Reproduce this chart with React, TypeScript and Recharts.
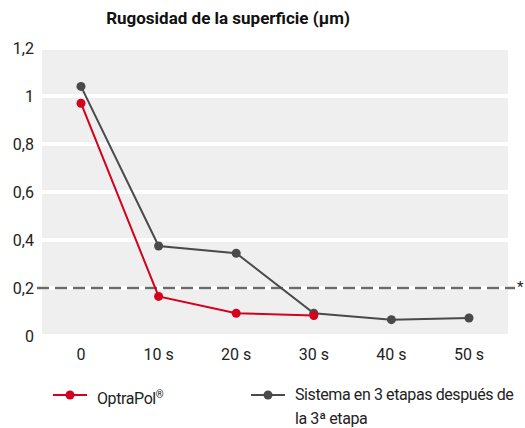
import { LineChart, Line, XAxis, YAxis, CartesianGrid, ReferenceLine } from "recharts";

const categories = ["0", "10 s", "20 s", "30 s", "40 s", "50 s"];
const optraPol = [0.97, 0.165, 0.095, 0.085, null, null];
const sistema3 = [1.04, 0.375, 0.345, 0.095, 0.068, 0.075];
const yTicks = [0, 0.2, 0.4, 0.6, 0.8, 1, 1.2];
const threshold = 0.2;

const data = categories.map((c, i) => ({ t: c, optra: optraPol[i], sistema: sistema3[i] }));

const style = {
  font: "Roboto, 'Liberation Sans', sans-serif",
  tick: { fontSize: 16, fill: "#222" },
  bg: "#efefef",
  red: "#d4001e",
  grey: "#4a4a4a",
  dash: "#6b6b6b",
};

const DashedRef = (props: any) => {
  const { x1, x2, y1 } = props;
  return (
    <g>
      <line x1={x1 - 5} x2={x2 + 7} y1={y1} y2={y1} stroke={style.dash} strokeWidth={2.5} strokeDasharray="12 6" />
      <text x={x2 + 9} y={y1 + 4} fontSize={15} fill="#222">*</text>
    </g>
  );
};

const LegendItem = ({ color, children, left }: { color: string; children: any; left: number }) => (
  <div style={{ position: "absolute", left, top: 384, display: "flex", alignItems: "flex-start" }}>
    <svg width={36} height={22}>
      <line x1={1} x2={35} y1={11} y2={11} stroke={color} strokeWidth={2} />
      <circle cx={18} cy={11} r={4.5} fill={color} />
    </svg>
    <div style={{ marginLeft: 9, fontSize: 16, lineHeight: "24px", color: "#222", marginTop: -1, whiteSpace: "nowrap", letterSpacing: -0.4 }}>
      {children}
    </div>
  </div>
);

export default function App() {
  return (
    <div style={{ position: "absolute", left: 0, top: 0, width: 525, height: 428, fontFamily: style.font, background: "#fff" }}>
      <div style={{ position: "absolute", left: 0, width: 456, top: 8, textAlign: "center", fontWeight: 700, fontSize: 17, color: "#111" }}>
        Rugosidad de la superficie (µm)
      </div>
      <LineChart width={525} height={428} data={data} margin={{ top: 48, right: 17, bottom: 62, left: 0 }} style={{ fontFamily: style.font }}>
        <CartesianGrid vertical={false} fill={style.bg} stroke="#fff" strokeWidth={4} horizontalValues={yTicks} />
        <XAxis dataKey="t" axisLine={false} tickLine={false} tick={style.tick} tickMargin={7} height={30} padding={{ left: 39, right: 39 }} />
        <YAxis
          domain={[0, 1.2]}
          ticks={yTicks}
          axisLine={false}
          tickLine={false}
          tick={style.tick}
          width={42}
          interval={0}
          tickFormatter={(v: number) => String(v).replace(".", ",")}
        />
        <ReferenceLine y={threshold} shape={DashedRef} ifOverflow="visible" />
        <Line dataKey="sistema" stroke={style.grey} strokeWidth={2} dot={{ r: 4.5, fill: style.grey, stroke: "none" }} isAnimationActive={false} />
        <Line dataKey="optra" stroke={style.red} strokeWidth={2} dot={{ r: 4.5, fill: style.red, stroke: "none" }} isAnimationActive={false} />
      </LineChart>
      <LegendItem color={style.red} left={52}>OptraPol<sup style={{ fontSize: 10 }}>®</sup></LegendItem>
      <LegendItem color={style.grey} left={250}>
        Sistema en 3 etapas después de<br />la 3ª etapa
      </LegendItem>
    </div>
  );
}
